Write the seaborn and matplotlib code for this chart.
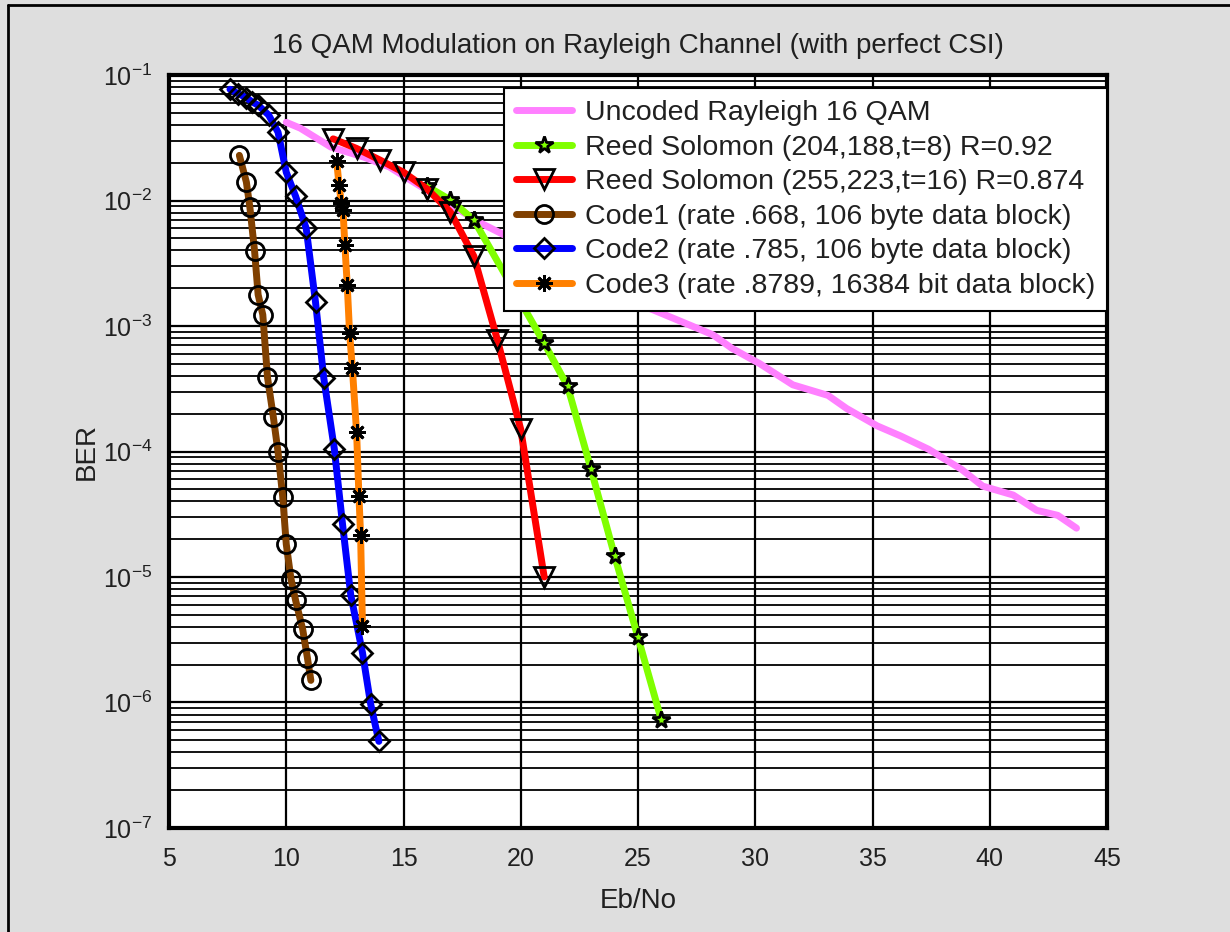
import numpy as np
import pandas as pd
import matplotlib
matplotlib.use("Agg")
import matplotlib.pyplot as plt
import seaborn as sns
from matplotlib.ticker import NullFormatter, FixedLocator, LogFormatterMathtext
from matplotlib.lines import Line2D

# ---------------- data ----------------
uncoded_x = [10.0, 10.6, 11.9, 13.3, 14.4, 15.1, 18.3, 25.5, 27.3, 28.2, 29.0, 30.2,
             31.6, 33.1, 33.9, 35.2, 36.2, 37.4, 38.8, 39.7, 41.0, 42.0, 42.9, 43.7]
uncoded_ber = [4.2e-2, 3.77e-2, 2.67e-2, 2.22e-2, 1.85e-2, 1.53e-2, 6.6e-3, 1.38e-3,
               1.0e-3, 8.5e-4, 6.65e-4, 5.0e-4, 3.4e-4, 2.8e-4, 2.2e-4, 1.6e-4,
               1.33e-4, 1.04e-4, 7.2e-5, 5.3e-5, 4.5e-5, 3.4e-5, 3.1e-5, 2.45e-5]

rs204_x = [16, 17, 18, 21, 22, 23, 24, 25, 26]
rs204_ber = [1.3e-2, 1.01e-2, 7.0e-3, 7.3e-4, 3.3e-4, 7.2e-5, 1.48e-5, 3.3e-6, 7.2e-7]

rs255_x = [12, 13, 14, 15, 16, 17, 18, 19, 20, 21]
rs255_ber = [3.1e-2, 2.6e-2, 2.1e-2, 1.68e-2, 1.24e-2, 8.1e-3, 3.6e-3, 7.8e-4, 1.5e-4, 1.0e-5]

code1_x = [8.0, 8.3, 8.45, 8.65, 8.8, 9.0, 9.2, 9.45, 9.65, 9.85, 10.0, 10.2, 10.4,
           10.7, 10.9, 11.05]
code1_ber = [2.29e-2, 1.40e-2, 8.8e-3, 3.95e-3, 1.78e-3, 1.23e-3, 3.9e-4, 1.88e-4,
             9.9e-5, 4.34e-5, 1.83e-5, 9.7e-6, 6.5e-6, 3.84e-6, 2.28e-6, 1.5e-6]

code2_x = [7.6, 7.95, 8.3, 8.55, 8.8, 9.25, 9.65, 10.0, 10.4, 10.85, 11.25, 11.6,
           12.05, 12.4, 12.75, 13.25, 13.6, 13.95]
code2_ber = [7.7e-2, 7.1e-2, 6.6e-2, 6.1e-2, 5.75e-2, 4.8e-2, 3.5e-2, 1.68e-2,
             1.08e-2, 6.0e-3, 1.54e-3, 3.85e-4, 1.05e-4, 2.64e-5, 7.2e-6, 2.5e-6,
             9.7e-7, 4.9e-7]

code3_x = [12.15, 12.25, 12.35, 12.42, 12.5, 12.6, 12.7, 12.82, 13.0, 13.1, 13.17, 13.25]
code3_ber = [2.06e-2, 1.34e-2, 9.5e-3, 8.4e-3, 4.4e-3, 2.14e-3, 8.8e-4, 4.6e-4,
             1.42e-4, 4.4e-5, 2.17e-5, 4.1e-6]

labels = ["Uncoded Rayleigh 16 QAM",
          "Reed Solomon (204,188,t=8) R=0.92",
          "Reed Solomon (255,223,t=16) R=0.874",
          "Code1 (rate .668, 106 byte data block)",
          "Code2 (rate .785, 106 byte data block)",
          "Code3 (rate .8789, 16384 bit data block)"]

x_ticks = [5, 10, 15, 20, 25, 30, 35, 40, 45]
y_ticks = [1e-7, 1e-6, 1e-5, 1e-4, 1e-3, 1e-2, 1e-1]
title_text = "16 QAM Modulation on Rayleigh Channel (with perfect CSI)"
x_label = "Eb/No"
y_label = "BER"

series_x = [uncoded_x, rs204_x, rs255_x, code1_x, code2_x, code3_x]
series_y = [uncoded_ber, rs204_ber, rs255_ber, code1_ber, code2_ber, code3_ber]
frames = []
for lab, xs, ys in zip(labels, series_x, series_y):
    frames.append(pd.DataFrame({"EbNo": xs, "BER": ys, "series": lab}))
df = pd.concat(frames, ignore_index=True)

# ---------------- styles ----------------
styles = {
    labels[0]: dict(color="#ff80ff", marker=None, ms=0),
    labels[1]: dict(color="#80ff00", marker="*", ms=13),
    labels[2]: dict(color="#ff0000", marker="v", ms=15),
    labels[3]: dict(color="#804000", marker="o", ms=13),
    labels[4]: dict(color="#0000ff", marker="D", ms=10.5),
    labels[5]: dict(color="#ff8000", marker=(8, 2, 0), ms=12),
}

sns.set_style("white")
plt.rcParams["font.family"] = ["Liberation Sans", "DejaVu Sans"]
plt.rcParams["mathtext.fontset"] = "custom"
plt.rcParams["mathtext.rm"] = "Liberation Sans"
plt.rcParams["mathtext.it"] = "Liberation Sans"
plt.rcParams["axes.unicode_minus"] = False

fig = plt.figure(figsize=(12.3, 9.32), dpi=100, facecolor="#dedede")
ax = fig.add_axes([0.1374, 0.1116, 0.7626, 0.8079])
ax.set_facecolor("white")

for lab in labels:
    st = styles[lab]
    sub = df[df["series"] == lab]
    kw = dict(color=st["color"], linewidth=5, label=lab)
    if st["marker"] is not None:
        kw.update(marker=st["marker"], markersize=st["ms"], markerfacecolor="none",
                  markeredgecolor="black", markeredgewidth=2.0)
    sns.lineplot(data=sub, x="EbNo", y="BER", ax=ax, estimator=None, sort=False,
                 zorder=3, **kw)

ax.set_yscale("log")
ax.set_xlim(5, 45)
ax.set_ylim(1e-7, 1e-1)
ax.xaxis.set_major_locator(FixedLocator(x_ticks))
ax.yaxis.set_major_locator(FixedLocator(y_ticks))
ax.yaxis.set_major_formatter(LogFormatterMathtext())
minor_y = [m * d for d in y_ticks[:-1] for m in range(2, 10)]
ax.yaxis.set_minor_locator(FixedLocator(minor_y))
ax.yaxis.set_minor_formatter(NullFormatter())

ax.set_axisbelow(True)
ax.grid(True, which="major", axis="both", color="black", linewidth=1.6, linestyle="-")
ax.grid(True, which="minor", axis="y", color="black", linewidth=1.3, linestyle="-")

ax.tick_params(axis="both", which="both", direction="in", colors="black",
               labelcolor="#202020")
ax.tick_params(axis="both", which="major", labelsize=18, length=5, width=1.5)
ax.tick_params(axis="x", which="major", pad=14)
ax.tick_params(axis="y", which="major", pad=12)
ax.tick_params(axis="y", which="minor", length=3)
for sp in ax.spines.values():
    sp.set_color("black")
    sp.set_linewidth(3)
    sp.set_visible(True)

ax.set_title(title_text, fontsize=20, color="#202020", pad=16)
ax.set_xlabel(x_label, fontsize=20, color="#202020", labelpad=12)
ax.set_ylabel(y_label, fontsize=20, color="#202020", labelpad=2)

handles = []
for lab in labels:
    st = styles[lab]
    if st["marker"] is None:
        h = Line2D([], [], color=st["color"], lw=5)
    else:
        h = Line2D([], [], color=st["color"], lw=5, marker=st["marker"],
                   markersize=st["ms"], markerfacecolor="none",
                   markeredgecolor="black", markeredgewidth=2.0)
    handles.append(h)
leg = ax.legend(handles, labels, loc="upper right", bbox_to_anchor=(1.0, 0.9827),
                borderaxespad=0, frameon=True, fancybox=False, framealpha=1,
                edgecolor="black", facecolor="white", handlelength=1.95,
                labelspacing=0.3, borderpad=0.42, handletextpad=0.45,
                fontsize=20.5)
leg.get_frame().set_linewidth(1.5)
leg.set_zorder(10)
for t in leg.get_texts():
    t.set_color("#202020")

# outer figure border
fig.add_artist(Line2D([8 / 1230, 8 / 1230], [0, 1 - 5 / 932], transform=fig.transFigure,
                      color="black", lw=2))
fig.add_artist(Line2D([8 / 1230, 1], [1 - 5 / 932, 1 - 5 / 932], transform=fig.transFigure,
                      color="black", lw=2))

fig.savefig("out.png", dpi=100, facecolor=fig.get_facecolor())
